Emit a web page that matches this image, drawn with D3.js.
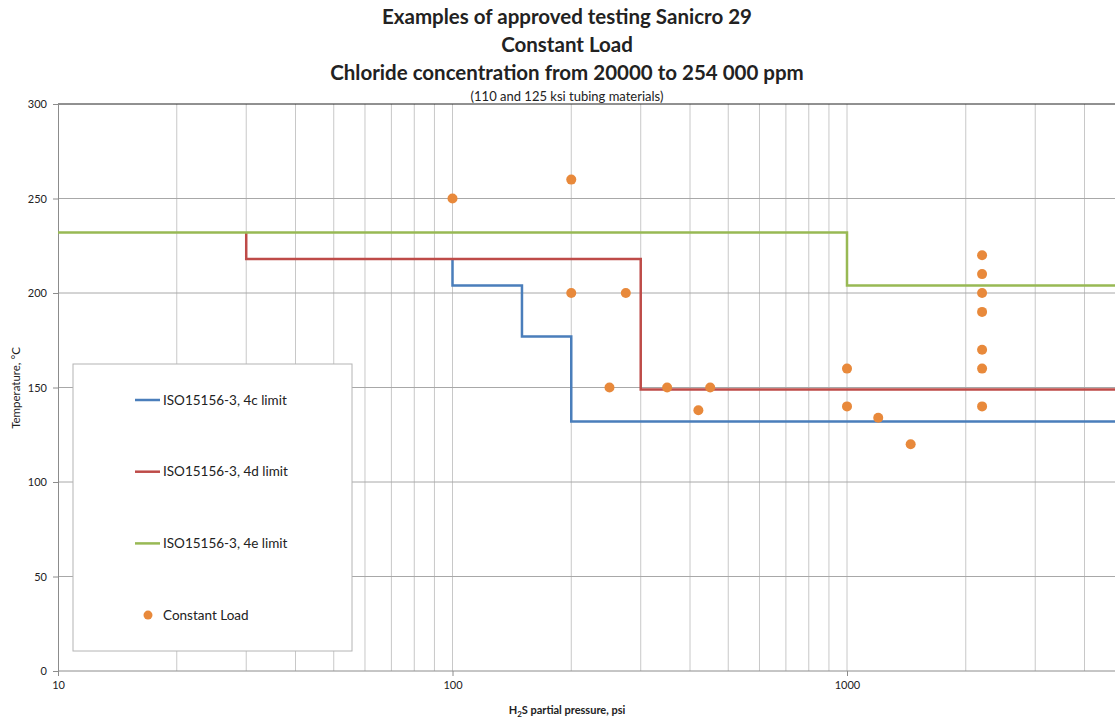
<!DOCTYPE html>
<html>
<head>
<meta charset="utf-8">
<script src="https://cdn.jsdelivr.net/npm/d3@7"></script>
<style>
  body { margin: 0; background: #fff; }
  text { font-family: Lato, "Open Sans", sans-serif; fill: #222; }
</style>
</head>
<body>
<div id="chart"></div>
<script>
// ISO 15156-3 limit step lines (H2S psi, temperature degC)
var limit4cX = [100, 100, 150, 150, 200, 200, 10000];
var limit4cY = [218, 204, 204, 177, 177, 132, 132];
var limit4dX = [30, 30, 300, 300, 10000];
var limit4dY = [232, 218, 218, 149, 149];
var limit4eX = [10, 1000, 1000, 10000];
var limit4eY = [232, 232, 204, 204];

// constant load test points
var loadX = [100, 200, 200, 275, 250, 350, 450, 420, 1000, 1000, 1200, 1450,
             2200, 2200, 2200, 2200, 2200, 2200, 2200];
var loadY = [250, 260, 200, 200, 150, 150, 150, 138, 160, 140, 134, 120,
             220, 210, 200, 190, 170, 160, 140];

var yTicks = [0, 50, 100, 150, 200, 250, 300];
var xTicks = [10, 100, 1000];

var titleLines = ["Examples of approved testing Sanicro 29", "Constant Load",
                  "Chloride concentration from 20000 to 254 000 ppm"];
var seriesNames = ["ISO15156-3, 4c limit", "ISO15156-3, 4d limit", "ISO15156-3, 4e limit", "Constant Load"];
var colors = ["#4a7ebb", "#be4b48", "#98b954", "#e8893b"];

var width = 1115, height = 719;
var svg = d3.select("#chart").append("svg")
    .attr("width", width)
    .attr("height", height);

var x = d3.scaleLog().domain([10, 10000]).range([58, 58 + 3 * 394.5]);
var y = d3.scaleLinear().domain([0, 300]).range([671, 104]);

// vertical grid (minor log lines)
var vGrid = [];
for (var d = 10; d < 10000; d *= 10) {
    for (var m = 1; m <= 9; m++) vGrid.push(d * m);
}
svg.append("g").selectAll("line")
    .data(vGrid.filter(function (v) { return v > 10; }))
    .enter().append("line")
    .attr("x1", function (v) { return x(v); })
    .attr("x2", function (v) { return x(v); })
    .attr("y1", y(300))
    .attr("y2", y(0))
    .attr("stroke", "#c8c8c8")
    .attr("stroke-width", 1);

// horizontal grid
svg.append("g").selectAll("line")
    .data(yTicks.filter(function (v) { return v > 0; }))
    .enter().append("line")
    .attr("x1", x(10))
    .attr("x2", width)
    .attr("y1", function (v) { return y(v); })
    .attr("y2", function (v) { return y(v); })
    .attr("stroke", function (v) { return v === 300 ? "#222" : "#a8a8a8"; })
    .attr("stroke-width", 1);

// axes
var yAxis = d3.axisLeft(y).tickValues(yTicks).tickSize(5).tickPadding(6);
var gy = svg.append("g").attr("transform", "translate(" + x(10) + ",0)").call(yAxis);
var xAxis = d3.axisBottom(x).tickValues(xTicks).tickFormat(d3.format("d")).tickSize(5).tickPadding(5);
var gx = svg.append("g").attr("transform", "translate(0," + y(0) + ")").call(xAxis);
[gx, gy].forEach(function (g) {
    g.select(".domain").attr("stroke", "#8c8c8c");
    g.selectAll(".tick line").attr("stroke", "#8c8c8c");
    g.selectAll("text").style("font-size", "11px").style("fill", "#222");
});
gx.select(".domain").attr("d", "M" + x(10) + ",0H" + width);

// step lines
var line = d3.line()
    .x(function (p) { return x(p[0]); })
    .y(function (p) { return y(p[1]); });
var limits = [[limit4cX, limit4cY], [limit4dX, limit4dY], [limit4eX, limit4eY]];
limits.forEach(function (s, i) {
    var pts = s[0].map(function (v, j) { return [v, s[1][j]]; });
    svg.append("path")
        .attr("d", line(pts))
        .attr("fill", "none")
        .attr("stroke", colors[i])
        .attr("stroke-width", 2.5);
});

// points
svg.append("g").selectAll("circle")
    .data(loadX.map(function (v, j) { return [v, loadY[j]]; }))
    .enter().append("circle")
    .attr("cx", function (p) { return x(p[0]); })
    .attr("cy", function (p) { return y(p[1]); })
    .attr("r", 5)
    .attr("fill", colors[3]);

// legend
var lg = svg.append("g");
lg.append("rect")
    .attr("x", 73).attr("y", 364).attr("width", 279).attr("height", 287)
    .attr("fill", "#fff").attr("stroke", "#b4b4b4").attr("stroke-width", 1);
seriesNames.forEach(function (name, i) {
    var ly = 400 + i * 71.7;
    if (i < 3) {
        lg.append("line").attr("x1", 135).attr("x2", 160).attr("y1", ly).attr("y2", ly)
            .attr("stroke", colors[i]).attr("stroke-width", 2.5);
    } else {
        lg.append("circle").attr("cx", 148).attr("cy", ly).attr("r", 4.5).attr("fill", colors[i]);
    }
    lg.append("text").attr("x", 163).attr("y", ly + 4.5)
        .style("font-size", "13.5px").text(name);
});

// titles
titleLines.forEach(function (t, i) {
    svg.append("text").attr("x", 567).attr("y", 24 + i * 28)
        .attr("text-anchor", "middle")
        .style("font-size", "20.5px").style("font-weight", "bold").text(t);
});
svg.append("text").attr("x", 567).attr("y", 101)
    .attr("text-anchor", "middle").style("font-size", "13px")
    .text("(110 and 125 ksi tubing materials)");

var xt = svg.append("text").attr("x", 567).attr("y", 714)
    .attr("text-anchor", "middle").style("font-size", "11px").style("font-weight", "bold");
xt.append("tspan").text("H");
xt.append("tspan").attr("dy", 3).style("font-size", "8px").text("2");
xt.append("tspan").attr("dy", -3).text("S partial pressure, psi");

svg.append("text")
    .attr("transform", "translate(20,388) rotate(-90)")
    .attr("text-anchor", "middle").style("font-size", "11.5px")
    .text("Temperature, °C");
</script>
</body>
</html>
